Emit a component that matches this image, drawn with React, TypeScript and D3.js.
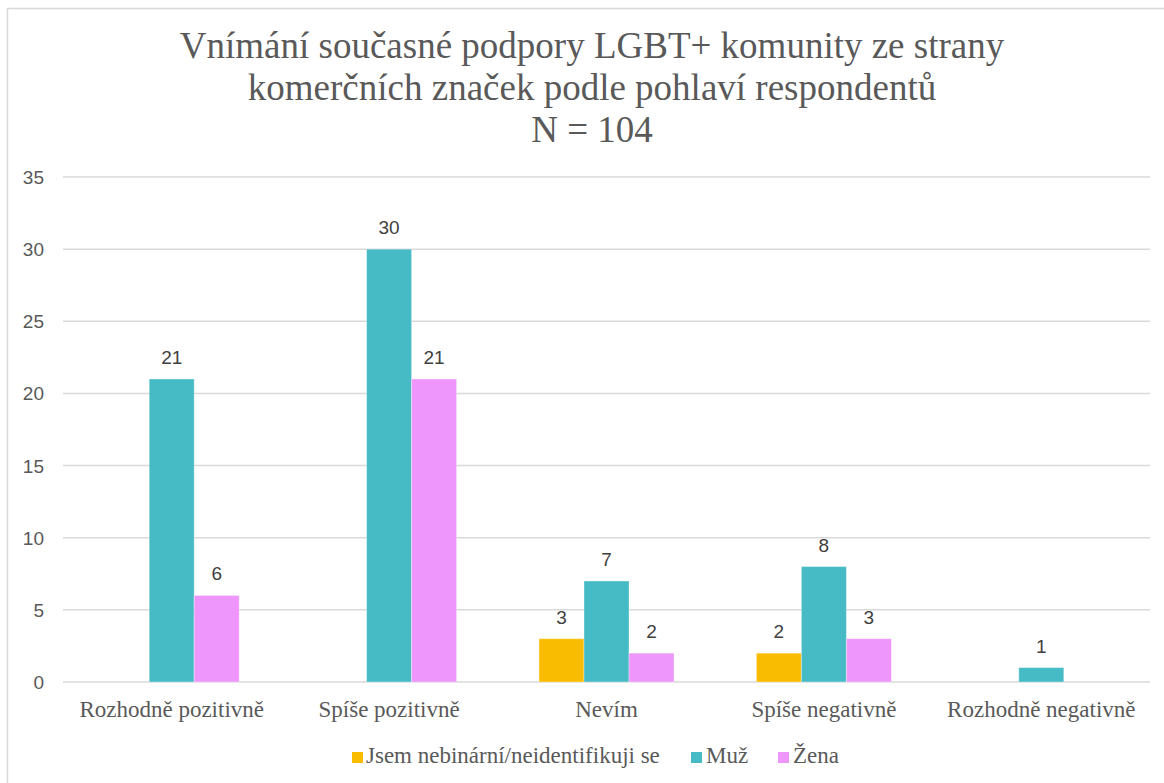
import React from "react";
import * as d3 from "d3";

const categories = [
  "Rozhodně pozitivně",
  "Spíše pozitivně",
  "Nevím",
  "Spíše negativně",
  "Rozhodně negativně",
];
const seriesNames = ["Jsem nebinární/neidentifikuji se", "Muž", "Žena"];
const nebinarni = [0, 0, 3, 2, 0];
const muz = [21, 30, 7, 8, 1];
const zena = [6, 21, 2, 3, 0];
const yTicks = [0, 5, 10, 15, 20, 25, 30, 35];
const titleLines = [
  "Vnímání současné podpory LGBT+ komunity ze strany",
  "komerčních značek podle pohlaví respondentů",
  "N = 104",
];

const colors = ["#F9BC00", "#46BBC5", "#EE96FB"];
const seriesValues = [nebinarni, muz, zena];

const W = 1164;
const H = 783;
const plotLeft = 63;
const plotRight = 1150;
const plotTop = 177;
const plotBottom = 682;
const serif = "'Liberation Serif', 'Times New Roman', serif";
const sans = "'Liberation Sans', Arial, sans-serif";

export default function App() {
  const x0 = d3.scaleBand<string>().domain(categories).range([plotLeft, plotRight]).paddingInner(0).paddingOuter(0);
  const groupW = 135;
  const x1 = d3.scaleBand<string>().domain(seriesNames).range([-groupW / 2, groupW / 2]).padding(0);
  const y = d3.scaleLinear().domain([0, 35]).range([plotBottom, plotTop]);

  const legendItems = [
    { name: seriesNames[0], sx: 352, tx: 366 },
    { name: seriesNames[1], sx: 691, tx: 706 },
    { name: seriesNames[2], sx: 778, tx: 793 },
  ];

  return (
    <div style={{ position: "fixed", left: 0, top: 0 }}>
      <svg width={W} height={H} style={{ display: "block", background: "#fff" }}>
        <rect x={7.5} y={8.5} width={1180} height={800} fill="#fff" stroke="#d9d9d9" strokeWidth={1.5} />
        {titleLines.map((t, i) => (
          <text key={i} x={592} y={57.5 + i * 42} textAnchor="middle" fontFamily={serif} fontSize={37} fill="#595959">
            {t}
          </text>
        ))}
        {yTicks.map((t) => (
          <g key={t}>
            <line x1={plotLeft} x2={plotRight} y1={y(t)} y2={y(t)} stroke="#d9d9d9" strokeWidth={1.5} />
            <text x={44} y={y(t) + 7} textAnchor="end" fontFamily={sans} fontSize={19} fill="#595959">
              {t}
            </text>
          </g>
        ))}
        {categories.map((c, ci) => {
          const cx = (x0(c) as number) + x0.bandwidth() / 2;
          return (
            <g key={c}>
              {seriesNames.map((s, si) => {
                const v = seriesValues[si][ci];
                if (!v) return null;
                const bx = cx + (x1(s) as number);
                return (
                  <g key={s}>
                    <rect x={bx} y={y(v)} width={x1.bandwidth()} height={y(0) - y(v)} fill={colors[si]} stroke="#ffffff" strokeOpacity={0.35} strokeWidth={1} />
                    <text x={bx + x1.bandwidth() / 2} y={y(v) - 15} textAnchor="middle" fontFamily={sans} fontSize={19} fill="#404040">
                      {v}
                    </text>
                  </g>
                );
              })}
              <text x={cx} y={717} textAnchor="middle" fontFamily={serif} fontSize={23} fill="#595959">
                {c}
              </text>
            </g>
          );
        })}
        {legendItems.map((l, i) => (
          <g key={l.name}>
            <rect x={l.sx} y={752} width={11} height={11} fill={colors[i]} />
            <text x={l.tx} y={763} fontFamily={serif} fontSize={23} fill="#595959">
              {l.name}
            </text>
          </g>
        ))}
      </svg>
    </div>
  );
}
